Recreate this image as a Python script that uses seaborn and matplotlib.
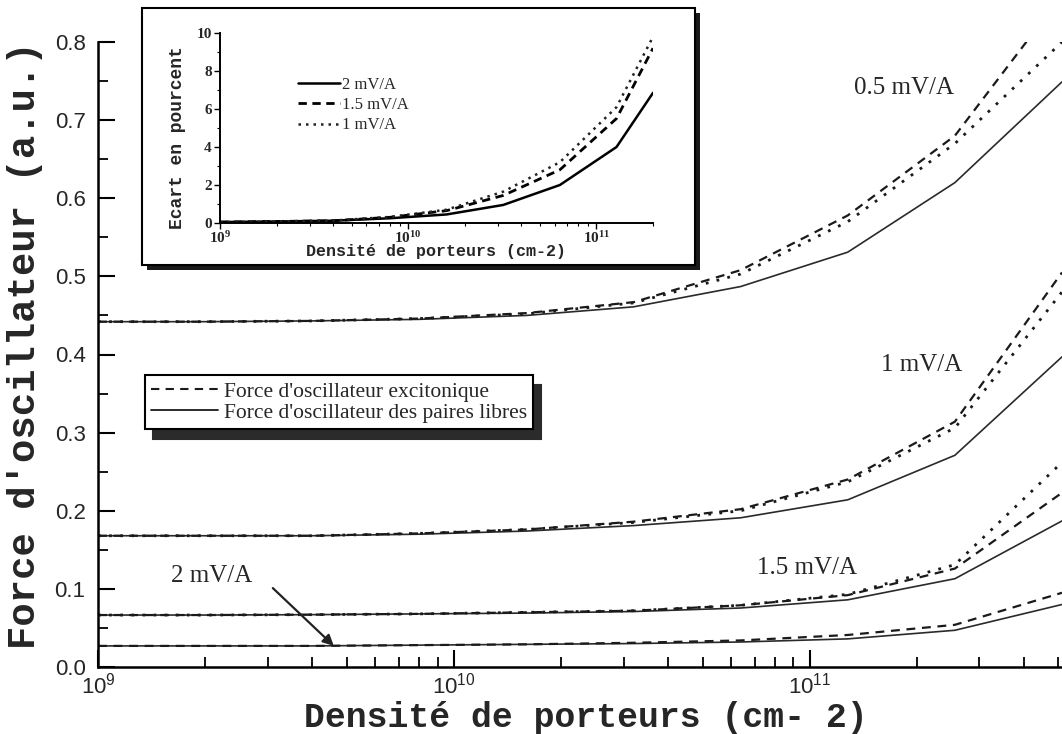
import numpy as np
import matplotlib
matplotlib.use("Agg")
import matplotlib.pyplot as plt
import seaborn as sns
from matplotlib.lines import Line2D
from matplotlib.patches import Rectangle
from matplotlib.ticker import LogLocator, NullFormatter, MultipleLocator

# densité de porteurs (cm-2) -- points de calcul
densite = [1e9, 2e9, 4e9, 8e9, 1.6e10, 3.2e10, 6.4e10, 1.28e11, 2.56e11, 5.12e11]

# force d'oscillateur (a.u.) pour chaque champ
# libres = paires libres (trait plein), excit = excitonique (tirets), pts = pointillés
libres_05 = [0.442, 0.442, 0.443, 0.445, 0.450, 0.461, 0.487, 0.531, 0.620, 0.749]
excit_05 = [0.442, 0.442, 0.443, 0.446, 0.453, 0.467, 0.508, 0.578, 0.680, 0.860]
pts_05 = [0.442, 0.442, 0.443, 0.446, 0.452, 0.466, 0.503, 0.570, 0.670, 0.800]

libres_1 = [0.168, 0.168, 0.168, 0.170, 0.174, 0.181, 0.191, 0.214, 0.271, 0.397]
excit_1 = [0.168, 0.168, 0.168, 0.171, 0.176, 0.186, 0.202, 0.240, 0.314, 0.505]
pts_1 = [0.168, 0.168, 0.168, 0.171, 0.176, 0.185, 0.200, 0.237, 0.306, 0.480]

libres_15 = [0.0665, 0.0665, 0.067, 0.068, 0.069, 0.071, 0.0755, 0.086, 0.113, 0.187]
excit_15 = [0.0665, 0.0665, 0.067, 0.068, 0.070, 0.072, 0.079, 0.092, 0.126, 0.223]
pts_15 = [0.0665, 0.0665, 0.067, 0.068, 0.070, 0.072, 0.079, 0.093, 0.131, 0.262]

libres_2 = [0.027, 0.027, 0.027, 0.028, 0.029, 0.030, 0.032, 0.036, 0.047, 0.080]
excit_2 = [0.027, 0.027, 0.027, 0.028, 0.029, 0.031, 0.034, 0.041, 0.054, 0.095]

# encart : écart en pourcent
densite_encart = [1e9, 2e9, 4e9, 8e9, 1.6e10, 3.2e10, 6.4e10, 1.28e11, 2e11]
ecart_2 = [0.05, 0.08, 0.12, 0.25, 0.45, 0.95, 2.0, 4.0, 6.85]
ecart_15 = [0.05, 0.08, 0.12, 0.30, 0.65, 1.45, 2.8, 5.5, 9.2]
ecart_1 = [0.05, 0.08, 0.13, 0.32, 0.70, 1.65, 3.2, 6.1, 9.8]

sns.set_style("ticks")
plt.rcParams["font.family"] = ["Liberation Serif", "DejaVu Sans"]
plt.rcParams["mathtext.fontset"] = "custom"
plt.rcParams["mathtext.rm"] = "Liberation Serif"
plt.rcParams["mathtext.bf"] = "Liberation Serif:bold"
plt.rcParams["mathtext.sf"] = "Liberation Sans"

W, H = 1062, 734
fig = plt.figure(figsize=(W / 100, H / 100), dpi=100)
ax = fig.add_axes([98 / W, 67 / H, 964 / W, 625 / H])

trait = dict(color="#2a2a2a", lw=1.2)
tirets = dict(color="#1a1a1a", lw=1.6, linestyle=(0, (4, 3)))
points = dict(color="#1a1a1a", lw=2.0, linestyle=(0, (1, 3)))

for lib, exc in [(libres_05, excit_05), (libres_1, excit_1),
                 (libres_15, excit_15), (libres_2, excit_2)]:
    sns.lineplot(x=densite, y=lib, ax=ax, estimator=None, sort=False, **trait)
    sns.lineplot(x=densite, y=exc, ax=ax, estimator=None, sort=False, **tirets)
for pts in [pts_05, pts_1, pts_15]:
    sns.lineplot(x=densite, y=pts, ax=ax, estimator=None, sort=False, **points)

ax.set_xscale("log")
ax.set_xlim(1e9, 5.12e11)
ax.set_ylim(0, 0.8)
for s in ["top", "right"]:
    ax.spines[s].set_visible(False)
for s in ["left", "bottom"]:
    ax.spines[s].set_linewidth(1.8)
    ax.spines[s].set_color("black")

yt = np.round(np.arange(0, 0.81, 0.1), 1)
ax.set_yticks(yt)
ax.set_yticklabels([f"{v:.1f}" for v in yt], fontfamily="Liberation Sans", fontsize=16)
ax.yaxis.set_minor_locator(MultipleLocator(0.05))
ax.set_xticks([1e9, 1e10, 1e11])
ax.set_xticklabels([r"$\mathsf{10^{9}}$", r"$\mathsf{10^{10}}$", r"$\mathsf{10^{11}}$"], fontsize=16)
ax.xaxis.set_minor_locator(LogLocator(base=10, subs=np.arange(2, 10)))
ax.xaxis.set_minor_formatter(NullFormatter())
ax.tick_params(which="major", direction="in", length=12, width=1.5, color="black")
ax.tick_params(which="minor", direction="in", length=7, width=1.3, color="black")
ax.tick_params(axis="y", pad=9)
ax.tick_params(axis="x", pad=4)

ax.set_ylabel("Force d'oscillateur (a.u.)", fontfamily="Liberation Mono",
              fontweight="bold", fontsize=28, ha="center", va="center")
ax.yaxis.set_label_coords(-0.0757, 0.515)
ax.set_xlabel("Densité de porteurs (cm- 2)", fontfamily="Liberation Mono",
              fontweight="bold", fontsize=25, ha="center", va="bottom")
ax.xaxis.set_label_coords(0.506, -0.1065)

# étiquettes des courbes
ax.text(1.84e11, 0.741, "0.5 mV/A", fontsize=18, ha="center", va="center")
ax.text(2.07e11, 0.387, "1 mV/A", fontsize=18, ha="center", va="center")
ax.text(9.8e10, 0.127, "1.5 mV/A", fontsize=18, ha="center", va="center")
ax.text(2.09e9, 0.116, "2 mV/A", fontsize=18, ha="center", va="center")
ax.annotate("", xy=(4.6e9, 0.027), xytext=(3.1e9, 0.101),
            arrowprops=dict(arrowstyle="-|>", color="#222222", lw=1.6,
                            mutation_scale=16, shrinkA=0, shrinkB=0))

poignees = [
    Line2D([0], [0], color="#1a1a1a", lw=1.5, linestyle=(0, (4, 3)),
           label="Force d'oscillateur excitonique"),
    Line2D([0], [0], color="#1a1a1a", lw=1.3, label="Force d'oscillateur des paires libres"),
]
leg = ax.legend(handles=poignees, loc="upper left", bbox_to_anchor=(145 / W, 1 - 375 / H),
                bbox_transform=fig.transFigure, fontsize=15.5, frameon=True, fancybox=False,
                framealpha=1, edgecolor="black", borderpad=0.3, borderaxespad=0,
                handlelength=3.1, handletextpad=0.25, labelspacing=0.05,
                shadow={"color": "#2b2b2b", "alpha": 1, "ox": 6, "oy": -7})
leg.get_frame().set_linewidth(1.5)

# cadre de l'encart avec ombre
fig.add_artist(Rectangle((147 / W, (H - 270) / H), 553 / W, 257 / H,
                         transform=fig.transFigure, facecolor="#1a1a1a",
                         edgecolor="none", zorder=1))
fig.add_artist(Rectangle((142 / W, (H - 265) / H), 553 / W, 257 / H,
                         transform=fig.transFigure, facecolor="white",
                         edgecolor="black", lw=1.5, zorder=2))

axin = fig.add_axes([220 / W, (H - 223) / H, 433 / W, 190 / H])
axin.set_zorder(3)
axin.set_facecolor("white")
sns.lineplot(x=densite_encart, y=ecart_2, ax=axin, color="black", lw=1.8,
             estimator=None, sort=False, label="2 mV/A")
sns.lineplot(x=densite_encart, y=ecart_15, ax=axin, color="black", lw=2.0,
             linestyle=(0, (3, 2)), estimator=None, sort=False, label="1.5 mV/A")
sns.lineplot(x=densite_encart, y=ecart_1, ax=axin, color="#222222", lw=1.8,
             linestyle=(0, (1, 2)), estimator=None, sort=False, label="1 mV/A")
axin.set_xscale("log")
axin.set_xlim(1e9, 2e11)
axin.set_ylim(0, 10)
for s in ["top", "right"]:
    axin.spines[s].set_visible(False)
for s in ["left", "bottom"]:
    axin.spines[s].set_linewidth(1.4)
    axin.spines[s].set_color("black")
axin.set_yticks(range(0, 11, 2))
axin.set_yticklabels([str(v) for v in range(0, 11, 2)], fontsize=11, fontweight="bold")
axin.yaxis.set_minor_locator(MultipleLocator(1))
axin.set_xticks([1e9, 1e10, 1e11])
axin.set_xticklabels([r"$\mathbf{10^{9}}$", r"$\mathbf{10^{10}}$", r"$\mathbf{10^{11}}$"], fontsize=11)
axin.xaxis.set_minor_locator(LogLocator(base=10, subs=np.arange(2, 10)))
axin.xaxis.set_minor_formatter(NullFormatter())
axin.tick_params(which="major", direction="out", length=4, width=1, pad=2, color="black")
axin.tick_params(axis="x", pad=1)
axin.tick_params(which="minor", direction="out", length=2, width=0.8, color="black")
axin.set_ylabel("Ecart en pourcent", fontfamily="Liberation Mono", fontweight="bold",
                fontsize=13, ha="center", va="center")
axin.yaxis.set_label_coords(-0.097, 0.447)
axin.set_xlabel("Densité de porteurs (cm-2)", fontfamily="Liberation Mono",
                fontweight="bold", fontsize=12, ha="center", va="center")
axin.xaxis.set_label_coords(0.499, -0.15)
axin.legend(loc="upper left", bbox_to_anchor=(298 / W, 1 - 77 / H),
            bbox_transform=fig.transFigure, frameon=False, fontsize=12,
            borderpad=0, borderaxespad=0, handlelength=2.5, handletextpad=0.15,
            labelspacing=0.25)

fig.savefig("out.png", dpi=100)
